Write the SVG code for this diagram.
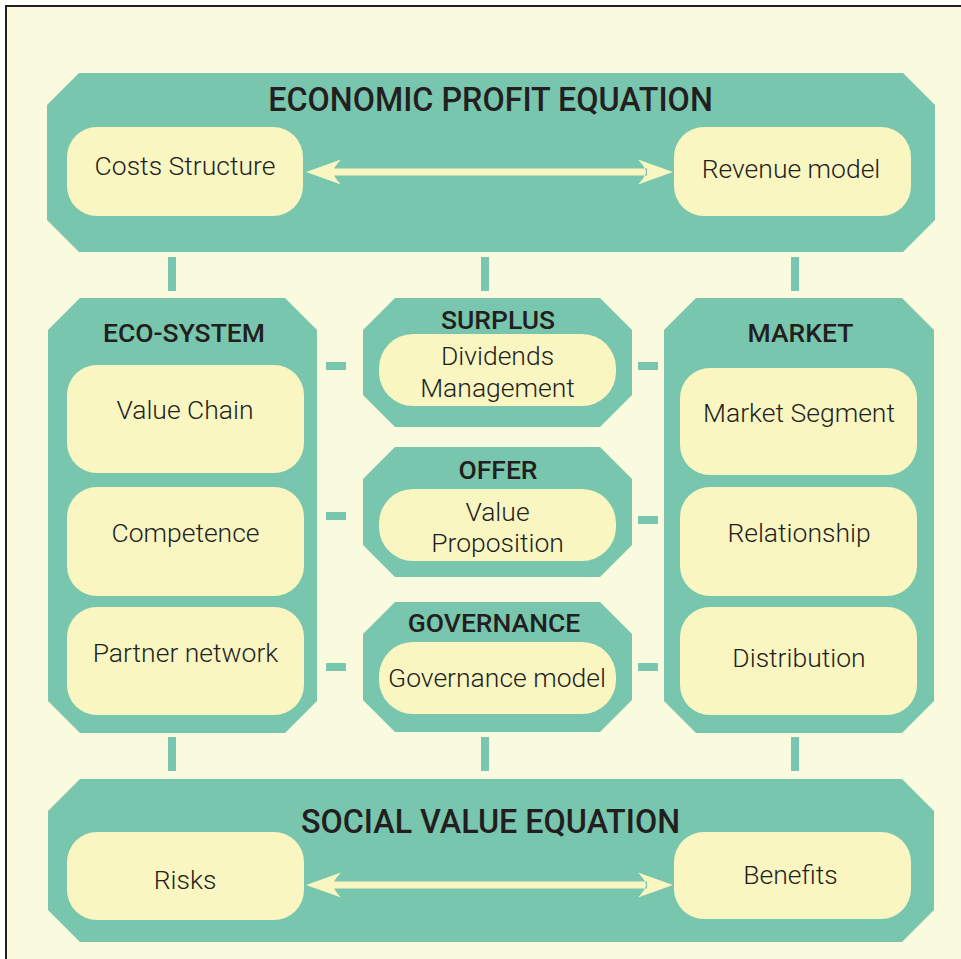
<svg xmlns="http://www.w3.org/2000/svg" width="961" height="959" viewBox="0 0 961 959">
<style>
.oct{fill:#78C6AD}
.box{fill:#F9F6C2}
.con{fill:#78C6AD}
.arr{fill:#F9F6C2}
.t{font-family:Roboto,"Liberation Sans",sans-serif;font-weight:300;font-size:26.5px;fill:#231F20;text-anchor:middle}
.h{font-family:Roboto,"Liberation Sans",sans-serif;font-weight:500;font-size:26.5px;fill:#231F20;text-anchor:middle}
.H{font-family:Roboto,"Liberation Sans",sans-serif;font-weight:500;font-size:32.3px;fill:#231F20;text-anchor:middle}
</style>
<defs>
<path id="dbl" d="M0,0 L35,-12.5 Q27,-4 27,0 Q27,4 35,12.5 Z M367,0 L332,-12.5 Q340,-4 340,0 Q340,4 332,12.5 Z M26,-3.5 H341 V3.5 H26 Z"/>
</defs>
<rect x="0" y="0" width="961" height="959" fill="#FFFFFF"/>
<rect x="6" y="6" width="970" height="970" fill="#FAFADE" stroke="#231F20" stroke-width="2"/>

<g id="economic-profit-equation">
<path class="oct" d="M79,73 L903,73 L935,105 L935,220 L903,252 L79,252 L47,220 L47,105 Z"/>
<text class="H" x="490.5" y="111">ECONOMIC PROFIT EQUATION</text>
</g>
<g id="costs-structure">
<rect class="box" x="67" y="127" width="236" height="89" rx="30"/>
<text class="t" x="185" y="175">Costs Structure</text>
</g>
<g id="revenue-model">
<rect class="box" x="674" y="127" width="237" height="89" rx="30"/>
<text class="t" x="791" y="178">Revenue model</text>
</g>

<g id="eco-system">
<path class="oct" d="M80,298 L285,298 L317,330 L317,701 L285,733 L80,733 L48,701 L48,330 Z"/>
<text class="h" x="184" y="342">ECO-SYSTEM</text>
</g>
<g id="value-chain">
<rect class="box" x="67" y="365" width="237" height="108" rx="30"/>
<text class="t" x="185" y="419">Value Chain</text>
</g>
<g id="competence">
<rect class="box" x="67" y="487" width="237" height="109" rx="30"/>
<text class="t" x="185.5" y="542">Competence</text>
</g>
<g id="partner-network">
<rect class="box" x="67" y="607" width="237" height="108" rx="30"/>
<text class="t" x="185.5" y="662">Partner network</text>
</g>

<g id="surplus">
<path class="oct" d="M395,298 L600,298 L632,330 L632,395 L600,427 L395,427 L363,395 L363,330 Z"/>
<text class="h" x="498" y="329">SURPLUS</text>
</g>
<g id="dividends-management">
<rect class="box" x="379" y="334" width="237" height="72" rx="34"/>
<text class="t" x="497.5" y="365">Dividends</text>
<text class="t" x="497.5" y="397">Management</text>
</g>

<g id="offer">
<path class="oct" d="M395,447 L600,447 L632,479 L632,545 L600,577 L395,577 L363,545 L363,479 Z"/>
<text class="h" x="498" y="479">OFFER</text>
</g>
<g id="value-proposition">
<rect class="box" x="379" y="489" width="237" height="72" rx="34"/>
<text class="t" x="497.5" y="521">Value</text>
<text class="t" x="497.5" y="552">Proposition</text>
</g>

<g id="governance">
<path class="oct" d="M395,602 L600,602 L632,634 L632,700 L600,732 L395,732 L363,700 L363,634 Z"/>
<text class="h" x="494" y="632">GOVERNANCE</text>
</g>
<g id="governance-model">
<rect class="box" x="379" y="642" width="237" height="72" rx="34"/>
<text class="t" x="497" y="687">Governance model</text>
</g>

<g id="market">
<path class="oct" d="M696,298 L902,298 L934,330 L934,701 L902,733 L696,733 L664,701 L664,330 Z"/>
<text class="h" x="800.5" y="342">MARKET</text>
</g>
<g id="market-segment">
<rect class="box" x="680" y="368" width="237" height="107" rx="30"/>
<text class="t" x="799" y="422">Market Segment</text>
</g>
<g id="relationship">
<rect class="box" x="680" y="487" width="237" height="109" rx="30"/>
<text class="t" x="799" y="542">Relationship</text>
</g>
<g id="distribution">
<rect class="box" x="680" y="607" width="237" height="108" rx="30"/>
<text class="t" x="799" y="667">Distribution</text>
</g>

<g id="social-value-equation">
<path class="oct" d="M80,779 L902,779 L934,811 L934,910 L902,942 L80,942 L48,910 L48,811 Z"/>
<text class="H" x="490.5" y="833">SOCIAL VALUE EQUATION</text>
</g>
<g id="risks">
<rect class="box" x="67" y="832" width="237" height="88" rx="30"/>
<text class="t" x="185" y="889">Risks</text>
</g>
<g id="benefits">
<rect class="box" x="674" y="832" width="237" height="87" rx="30"/>
<text class="t" x="790.5" y="884">Benefits</text>
</g>

<g id="connectors">
<use href="#dbl" class="arr" transform="translate(306,172)"/>
<use href="#dbl" class="arr" transform="translate(306,885)"/>
<rect class="con" x="168" y="257" width="8" height="34"/>
<rect class="con" x="481" y="257" width="8" height="34"/>
<rect class="con" x="791" y="257" width="8" height="34"/>
<rect class="con" x="168" y="737" width="8" height="34"/>
<rect class="con" x="481" y="737" width="8" height="34"/>
<rect class="con" x="791" y="737" width="8" height="34"/>
<rect class="con" x="326" y="362" width="20" height="8"/>
<rect class="con" x="326" y="512" width="20" height="8"/>
<rect class="con" x="326" y="663" width="20" height="8"/>
<rect class="con" x="638" y="362" width="20" height="8"/>
<rect class="con" x="638" y="516" width="20" height="8"/>
<rect class="con" x="638" y="663" width="20" height="8"/>
</g>
</svg>
